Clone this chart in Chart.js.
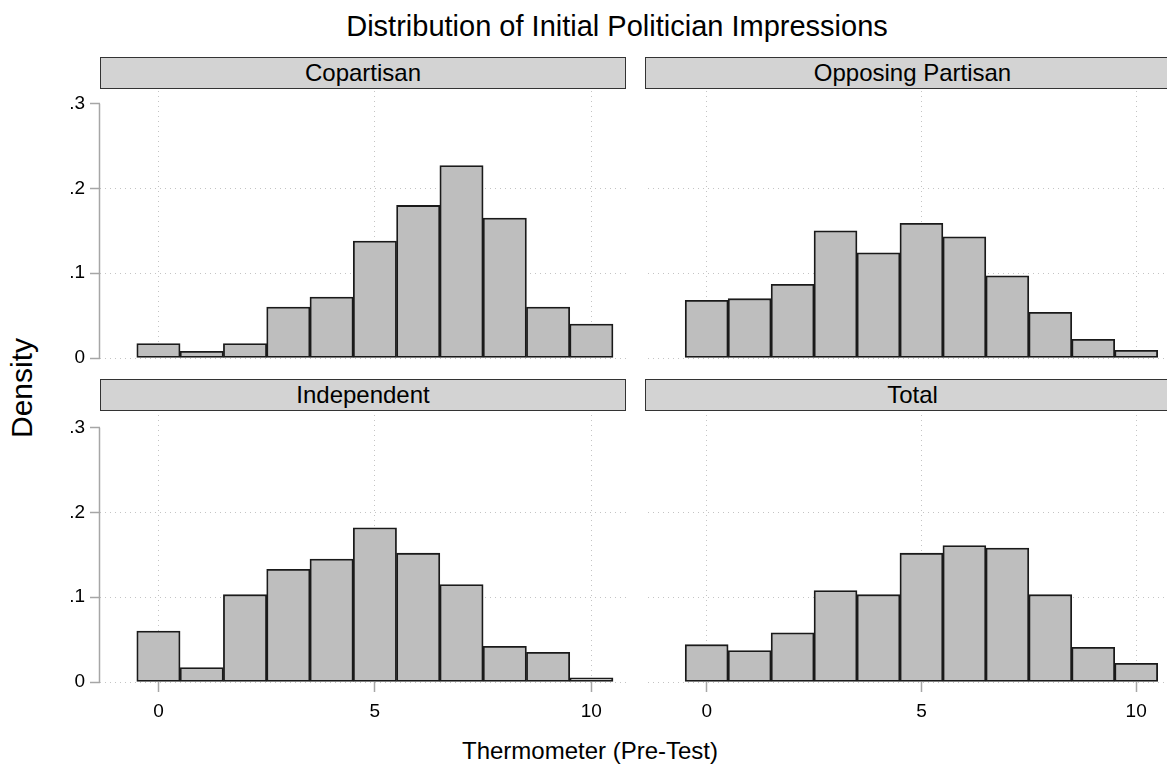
<!DOCTYPE html>
<html>
<head>
<meta charset="utf-8">
<title>Distribution of Initial Politician Impressions</title>
<script src="https://cdn.jsdelivr.net/npm/chart.js@4.4.1/dist/chart.umd.min.js"></script>
<style>
    body {
        margin: 0;
        width: 1167px;
        height: 768px;
        overflow: hidden;
        position: relative;
        background: #fff;
        font-family: 'Liberation Sans', Arial, sans-serif;
        color: #000;
    }
    .lbl {
        position: absolute;
        white-space: nowrap;
        transform: translate(-50%, -50%);
    }
    .strip {
        position: absolute;
        height: 32px;
        box-sizing: border-box;
        background: #d3d3d3;
        border: 1.5px solid #333;
        font-size: 24px;
        line-height: 29px;
        text-align: center;
    }
    canvas {
        position: absolute;
    }
</style>
</head>
<body>
<div class="lbl" style="left:617px; top:26px; font-size:29px;">Distribution of Initial Politician Impressions</div>
<div class="lbl" style="left:22px; top:388px; font-size:30px; transform:translate(-50%,-50%) rotate(-90deg);">Density</div>
<div class="lbl" style="left:590px; top:751px; font-size:24px;">Thermometer (Pre-Test)</div>

<div class="strip" style="left:100px; top:57px; width:526px;">Copartisan</div>
<div class="strip" style="left:645px; top:57px; width:535px;">Opposing Partisan</div>
<div class="strip" style="left:100px; top:379px; width:526px;">Independent</div>
<div class="strip" style="left:645px; top:379px; width:535px;">Total</div>

<canvas id="copartisanChart" width="626" height="291" style="left:0px; top:79px;"></canvas>
<canvas id="opposingChart" width="532" height="291" style="left:648px; top:79px;"></canvas>
<canvas id="independentChart" width="626" height="339" style="left:0px; top:403px;"></canvas>
<canvas id="totalChart" width="532" height="339" style="left:648px; top:403px;"></canvas>

<script>
// thermometer bins (pre-test score 0..10)
const bins = [0, 1, 2, 3, 4, 5, 6, 7, 8, 9, 10];

// density per bin
const copartisan = [0.017, 0.008, 0.017, 0.060, 0.072, 0.138, 0.180, 0.227, 0.165, 0.060, 0.040];
const opposing = [0.068, 0.070, 0.087, 0.150, 0.124, 0.159, 0.143, 0.097, 0.054, 0.022, 0.009];
const independent = [0.060, 0.017, 0.103, 0.133, 0.145, 0.182, 0.152, 0.115, 0.042, 0.035, 0.005];
const total = [0.044, 0.037, 0.058, 0.108, 0.103, 0.152, 0.161, 0.158, 0.103, 0.041, 0.022];

const yTicks = [0, 0.1, 0.2, 0.3];
const yTickLabels = ['0', '.1', '.2', '.3'];
const xTicks = [0, 5, 10];
const xTickLabels = ['0', '5', '10'];

const gridColor = '#c4c4c4';
const axisColor = '#a6a6a6';

// gray y axis line, only from 0 to .3 like stata does
const yAxisLine = {
    id: 'yAxisLine',
    afterDraw(chart) {
        const y = chart.scales.y;
        const ctx = chart.ctx;
        const x = chart.chartArea.left - 0.5;
        ctx.save();
        ctx.strokeStyle = axisColor;
        ctx.lineWidth = 1.5;
        ctx.beginPath();
        ctx.moveTo(x, y.getPixelForValue(yTicks[0]));
        ctx.lineTo(x, y.getPixelForValue(yTicks[yTicks.length - 1]));
        ctx.stroke();
        ctx.restore();
    },
};

function hideTopGrid(ctx) {
    if (ctx.tick && Math.abs(ctx.tick.value - 0.3) < 1e-9) {
        return 'rgba(0,0,0,0)';
    }
    return gridColor;
}

function makePanel(id, values, showY, showX, xMin, xMax) {
    const points = bins.map((b, i) => ({ x: b, y: values[i] }));
    return new Chart(document.getElementById(id).getContext('2d'), {
        type: 'bar',
        data: {
            datasets: [
                {
                    data: points,
                    backgroundColor: '#bebebe',
                    borderColor: '#1a1a1a',
                    borderWidth: 1.8,
                    borderSkipped: false,
                    barPercentage: 1,
                    categoryPercentage: 1,
                },
            ],
        },
        options: {
            responsive: false,
            animation: false,
            events: [],
            layout: {
                padding: { top: 12, bottom: showX ? 0 : 12, left: 0, right: 0 },
            },
            plugins: {
                legend: { display: false },
                tooltip: { enabled: false },
            },
            scales: {
                x: {
                    type: 'linear',
                    min: xMin,
                    max: xMax,
                    offset: false,
                    afterBuildTicks: (scale) => {
                        scale.ticks = xTicks.map((v) => ({ value: v }));
                    },
                    afterFit: (scale) => {
                        scale.height = showX ? 60 : 0;
                        scale.paddingLeft = 0;
                        scale.paddingRight = 0;
                    },
                    border: { display: false, dash: [1, 4] },
                    grid: {
                        offset: false,
                        color: gridColor,
                        lineWidth: 1,
                        drawTicks: showX,
                        tickLength: 10,
                        tickColor: axisColor,
                        tickWidth: 1.5,
                        tickBorderDash: [],
                    },
                    ticks: {
                        display: showX,
                        padding: 8,
                        color: '#000',
                        font: { family: 'Liberation Sans', size: 19 },
                        maxRotation: 0,
                        callback: (v) => xTickLabels[xTicks.indexOf(v)],
                    },
                },
                y: {
                    min: 0,
                    max: 0.315,
                    afterBuildTicks: (scale) => {
                        scale.ticks = yTicks.map((v) => ({ value: v }));
                    },
                    afterFit: (scale) => {
                        scale.width = showY ? 100 : 0;
                        scale.paddingTop = 0;
                        scale.paddingBottom = 0;
                    },
                    border: { display: false, dash: [1, 4] },
                    grid: {
                        color: hideTopGrid,
                        lineWidth: 1,
                        drawTicks: showY,
                        tickLength: 10,
                        tickColor: axisColor,
                        tickWidth: 1.5,
                        tickBorderDash: [],
                    },
                    ticks: {
                        display: showY,
                        padding: 5,
                        color: '#000',
                        font: { family: 'Liberation Sans', size: 19 },
                        callback: (v) => yTickLabels[yTicks.findIndex((t) => Math.abs(t - v) < 1e-9)],
                    },
                },
            },
        },
        plugins: showY ? [yAxisLine] : [],
    });
}

makePanel('copartisanChart', copartisan, true, false, -1.35, 10.8);
makePanel('opposingChart', opposing, false, false, -1.366, 11.02);
makePanel('independentChart', independent, true, true, -1.35, 10.8);
makePanel('totalChart', total, false, true, -1.366, 11.02);
</script>
</body>
</html>
